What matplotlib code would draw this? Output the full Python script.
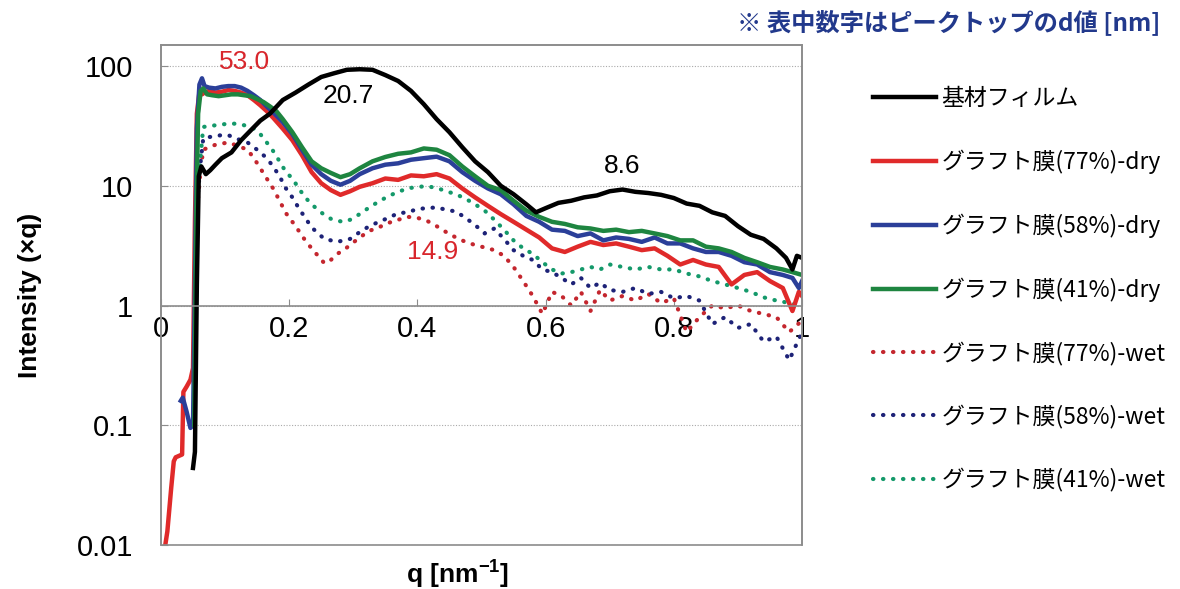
import numpy as np
import matplotlib
matplotlib.use('Agg')
import matplotlib.pyplot as plt
from matplotlib.patches import Rectangle
from matplotlib.ticker import NullLocator

plt.rcParams['font.family'] = ['Liberation Sans', 'Noto Sans CJK JP']
plt.rcParams['mathtext.fontset'] = 'custom'
plt.rcParams['mathtext.bf'] = 'Liberation Sans:bold'
plt.rcParams['mathtext.rm'] = 'Liberation Sans'

# ---- data ----
labels = ['基材フィルム', 'グラフト膜(77%)-dry', 'グラフト膜(58%)-dry', 'グラフト膜(41%)-dry',
          'グラフト膜(77%)-wet', 'グラフト膜(58%)-wet', 'グラフト膜(41%)-wet']

q_base = [0.050, 0.053, 0.056, 0.059, 0.063, 0.070, 0.077, 0.085, 0.095, 0.11,
          0.125, 0.14, 0.155, 0.17, 0.19, 0.21, 0.23, 0.25, 0.27, 0.29,
          0.31, 0.33, 0.35, 0.37, 0.39, 0.41, 0.43, 0.45, 0.47, 0.49,
          0.51, 0.53, 0.55, 0.57, 0.585, 0.60, 0.62, 0.64, 0.66, 0.68,
          0.70, 0.72, 0.74, 0.76, 0.78, 0.80, 0.82, 0.84, 0.86, 0.88,
          0.90, 0.92, 0.94, 0.96, 0.975, 0.985, 0.992, 1.0]
i_base = [0.044, 0.06, 1.5, 12, 14.5, 12.5, 13.5, 15, 17, 19,
          24, 29, 35, 40, 52, 60, 70, 81, 87, 93,
          94, 93, 84, 75, 62, 48, 36, 28, 21, 16,
          13, 10, 8.5, 7, 6, 6.5, 7.2, 7.5, 8, 8.3,
          9, 9.3, 8.9, 8.7, 8.4, 7.9, 7.1, 6.8, 6.0, 5.6,
          4.6, 3.9, 3.6, 3.0, 2.5, 2.0, 2.6, 2.5]

q_77dry = [0.004, 0.010, 0.016, 0.020, 0.023, 0.033, 0.035, 0.040, 0.046, 0.050,
           0.053, 0.056, 0.060, 0.064, 0.068, 0.075, 0.085, 0.095, 0.105, 0.115,
           0.125, 0.135, 0.145, 0.155, 0.165, 0.175, 0.19, 0.205, 0.22, 0.235,
           0.25, 0.265, 0.28, 0.295, 0.31, 0.33, 0.35, 0.37, 0.39, 0.41,
           0.43, 0.45, 0.47, 0.49, 0.51, 0.53, 0.55, 0.57, 0.59, 0.61,
           0.63, 0.65, 0.67, 0.69, 0.71, 0.73, 0.75, 0.77, 0.79, 0.81,
           0.83, 0.85, 0.87, 0.89, 0.91, 0.93, 0.95, 0.97, 0.985, 0.995, 1.0]
i_77dry = [0.008, 0.013, 0.03, 0.05, 0.054, 0.057, 0.19, 0.21, 0.24, 0.3,
           5, 40, 60, 58, 60, 62, 60, 61, 63, 62,
           60, 57, 52, 47, 42, 37, 30, 24, 18, 13,
           10.5, 9.2, 8.4, 9.0, 9.8, 10.5, 11.5, 11.2, 12.2, 12,
           12.5, 11.5, 9.5, 8, 6.8, 5.8, 5.0, 4.3, 3.7, 3.0,
           2.8, 3.1, 3.4, 3.2, 3.3, 3.1, 2.9, 3.0, 2.6, 2.2,
           2.4, 2.2, 2.1, 1.5, 1.8, 1.9, 1.6, 1.4, 0.9, 1.3, 1.2]

q_58dry = [0.031, 0.034, 0.040, 0.046, 0.050, 0.053, 0.056, 0.060, 0.064, 0.068,
           0.075, 0.085, 0.095, 0.105, 0.115, 0.125, 0.135, 0.145, 0.155, 0.165,
           0.175, 0.19, 0.205, 0.22, 0.235, 0.25, 0.265, 0.28, 0.295, 0.31,
           0.33, 0.35, 0.37, 0.39, 0.41, 0.43, 0.45, 0.47, 0.49, 0.51,
           0.53, 0.55, 0.57, 0.59, 0.61, 0.63, 0.65, 0.67, 0.69, 0.71,
           0.73, 0.75, 0.77, 0.79, 0.81, 0.83, 0.85, 0.87, 0.89, 0.91,
           0.93, 0.95, 0.97, 0.985, 0.995, 1.0]
i_58dry = [0.16, 0.17, 0.13, 0.095, 0.1, 1.5, 30, 70, 79, 68,
           66, 65, 67, 68, 68, 66, 62, 57, 52, 46,
           41, 34, 27, 20, 15, 12.5, 11, 10.2, 11, 12.5,
           14, 15, 15.4, 16.5, 17, 17.5, 16, 13, 11, 9.5,
           8.5, 7, 5.6, 5.0, 4.3, 4.2, 3.8, 4.0, 3.5, 3.7,
           3.6, 3.4, 3.7, 3.3, 3.3, 3.0, 2.8, 2.8, 2.6, 2.3,
           2.2, 1.9, 1.8, 1.7, 1.4, 1.6]

q_41dry = [0.052, 0.055, 0.058, 0.062, 0.066, 0.072, 0.08, 0.09, 0.10, 0.11,
           0.12, 0.13, 0.14, 0.15, 0.16, 0.17, 0.18, 0.19, 0.205, 0.22,
           0.235, 0.25, 0.265, 0.28, 0.295, 0.31, 0.33, 0.35, 0.37, 0.39,
           0.41, 0.43, 0.45, 0.47, 0.49, 0.51, 0.53, 0.55, 0.57, 0.59,
           0.61, 0.63, 0.65, 0.67, 0.69, 0.71, 0.73, 0.75, 0.77, 0.79,
           0.81, 0.83, 0.85, 0.87, 0.89, 0.91, 0.93, 0.95, 0.97, 0.985, 1.0]
i_41dry = [0.1, 5, 40, 62, 65, 58, 57, 56, 57, 58,
           58, 57, 56, 53, 50, 46, 42, 36, 28, 21,
           16, 14, 12.8, 11.8, 12.5, 14, 16, 17.4, 18.5, 19,
           20.5, 20, 18, 14.5, 12, 10, 9.2, 7.5, 6.2, 5.5,
           5.0, 4.8, 4.5, 4.4, 4.2, 4.3, 4.1, 4.2, 4.0, 3.8,
           3.5, 3.5, 3.1, 3.0, 2.8, 2.5, 2.3, 2.1, 2.0, 1.9, 1.8]

q_wet = [0.058, 0.062, 0.066, 0.075, 0.085, 0.095, 0.105, 0.115, 0.125, 0.135,
         0.145, 0.155, 0.165, 0.175, 0.185, 0.195, 0.205, 0.215, 0.225, 0.235,
         0.245, 0.255, 0.265, 0.275, 0.285, 0.295, 0.31, 0.325, 0.34, 0.355,
         0.37, 0.385, 0.40, 0.415, 0.43, 0.445, 0.46, 0.475, 0.49, 0.505,
         0.52, 0.535, 0.55, 0.565, 0.58, 0.595, 0.61, 0.625, 0.64, 0.655,
         0.67, 0.685, 0.70, 0.72, 0.74, 0.76, 0.78, 0.80, 0.82, 0.84,
         0.86, 0.88, 0.90, 0.92, 0.94, 0.96, 0.98, 1.0]
i_77wet = [8, 14, 20, 21, 22, 22.5, 23, 22, 21, 20,
           17, 14, 11.5, 9.5, 7.5, 5.9, 5.0, 4.2, 3.5, 3.0,
           2.6, 2.25, 2.4, 2.7, 2.9, 3.2, 3.7, 4.2, 4.5, 4.9,
           5.2, 5.5, 5.4, 5.1, 4.6, 4.1, 3.7, 3.4, 3.2, 3.05,
           2.9, 2.6, 2.1, 1.6, 1.2, 0.85, 1.3, 1.2, 1.0, 1.3,
           0.9, 1.35, 1.1, 1.2, 1.1, 1.25, 1.05, 1.15, 0.6, 0.8,
           1.0, 0.95, 1.0, 0.9, 0.85, 0.8, 0.6, 0.75]
i_58wet = [9, 16, 25, 25.5, 26, 26.5, 26.5, 25, 24, 23,
           21, 19, 17, 14.5, 12, 9.5, 8.0, 6.5, 5.4, 4.5,
           4.0, 3.6, 3.5, 3.4, 3.5, 3.6, 4.1, 4.6, 5.0, 5.4,
           5.9, 6.0, 6.4, 6.5, 6.6, 6.3, 6.1, 5.4, 4.7, 4.0,
           4.4, 3.6, 2.9, 2.6, 2.4, 2.0, 1.9, 1.7, 1.5, 1.7,
           1.4, 1.55, 1.35, 1.3, 1.4, 1.25, 1.3, 1.15, 1.2, 1.1,
           0.7, 0.8, 0.65, 0.7, 0.5, 0.55, 0.35, 0.6]
i_41wet = [10, 18, 31, 31.5, 32, 32.5, 33, 33, 32.5, 31.5,
           30, 27, 23, 19.5, 16, 13, 11.5, 9.5, 8, 7,
           6.3, 5.7, 5.3, 5.1, 5.0, 5.2, 5.8, 6.6, 7.4, 8.2,
           8.9, 9.5, 9.8, 9.9, 9.6, 9.0, 8.5, 7.8, 7.0, 6.2,
           5.2, 4.3, 3.5, 3.0, 2.7, 2.3, 2.0, 1.85, 1.9, 2.0,
           2.1, 2.0, 2.2, 2.1, 2.0, 2.1, 2.0, 2.0, 1.85, 1.75,
           1.6, 1.5, 1.4, 1.3, 1.17, 1.1, 1.05, 1.0]

# peak-top d values [nm]: text, q, intensity, colour
peak_text = ['53.0', '20.7', '14.9', '8.6']
peak_q = [0.131, 0.292, 0.423, 0.72]
peak_i = [108, 56, 2.8, 14.5]
peak_col = ['#d8262c', 'black', '#d8262c', 'black']

# ---- figure ----
fig = plt.figure(figsize=(11.8, 5.89), dpi=100)
ax = fig.add_axes([0.1364, 0.0747, 0.5433, 0.849])
ax.set_yscale('log')
ax.set_xlim(0, 1)
ax.set_ylim(0.01, 150)

frame = '#8c8c8c'
dot = (0, (0.1, 2.3))
ax.plot(q_wet, i_77wet, color='#c4262e', lw=3, ls=dot, dash_capstyle='round', label=labels[4])
ax.plot(q_wet, i_58wet, color='#1d2277', lw=3, ls=dot, dash_capstyle='round', label=labels[5])
ax.plot(q_wet, i_41wet, color='#14996a', lw=3, ls=dot, dash_capstyle='round', label=labels[6])
ax.plot(q_77dry, i_77dry, color='#e02a2a', lw=3.2, label=labels[1])
ax.plot(q_58dry, i_58dry, color='#2b3f99', lw=3.2, label=labels[2])
ax.plot(q_41dry, i_41dry, color='#1e8540', lw=3.2, label=labels[3])
ax.plot(q_base, i_base, color='black', lw=3.2, label=labels[0])

for t, x, y, c in zip(peak_text, peak_q, peak_i, peak_col):
    ax.text(x, y, t, color=c, fontsize=19, ha='center', va='center')

# axes styling: x axis runs along y = 1, frame round the whole box
ax.spines['bottom'].set_position(('data', 1))
for s in ax.spines.values():
    s.set_color(frame)
    s.set_linewidth(1.2)
ax.add_patch(Rectangle((0, 0), 1, 1, transform=ax.transAxes, fill=False,
                       ec=frame, lw=1.2, clip_on=False, zorder=5))

ax.set_xticks([0, 0.2, 0.4, 0.6, 0.8, 1.0])
ax.set_xticklabels(['0', '0.2', '0.4', '0.6', '0.8', '1'])
ax.set_yticks([0.01, 0.1, 1, 10, 100])
ax.set_yticklabels(['0.01', '0.1', '1', '10', '100'])
ax.yaxis.set_minor_locator(NullLocator())
ax.tick_params(axis='x', direction='in', length=5, color=frame, labelsize=21, pad=7)
ax.tick_params(axis='y', direction='in', length=5, color=frame, labelsize=21, pad=20)
ax.yaxis.grid(True, which='major', ls=(0, (1, 1.5)), color='#aaaaaa', lw=0.8)

ax.set_ylabel('Intensity (×q)', fontsize=19, fontweight='bold')
ax.yaxis.set_label_coords(-0.185, 0.5)
ax.set_xlabel(r'q [nm$^{\mathbf{-1}}$]', fontsize=19, fontweight='bold')
ax.xaxis.set_label_coords(0.462, -0.025)

h, l = ax.get_legend_handles_labels()
order = [6, 3, 4, 5, 0, 1, 2]
fig.legend([h[i] for i in order], [l[i] for i in order], loc='upper left',
           bbox_to_anchor=(0.7395, 0.852), frameon=False,
           prop={'family': ['Noto Sans CJK JP'], 'size': 16.5},
           handlelength=2.75, handletextpad=0.25, labelspacing=1.72,
           borderaxespad=0, borderpad=0)

fig.text(1160 / 1180, 1 - 22 / 589, '※ 表中数字はピークトップのd値 [nm]',
         ha='right', va='center', color='#22398c', fontsize=17.5, fontweight='bold',
         family=['Noto Sans CJK JP'])

fig.savefig('out.png', dpi=100)
